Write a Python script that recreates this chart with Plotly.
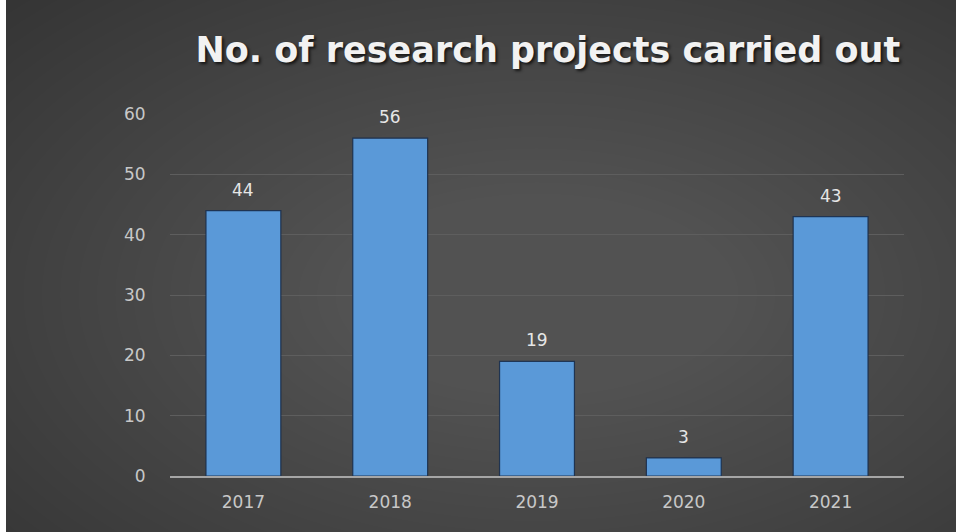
import plotly.graph_objects as go

years = ["2017", "2018", "2019", "2020", "2021"]
projects = [44, 56, 19, 3, 43]
y_ticks = [0, 10, 20, 30, 40, 50, 60]
title_text = "No. of research projects carried out"

fig = go.Figure()
fig.add_trace(go.Bar(
    x=years, y=projects,
    marker=dict(color="#5a99d8", line=dict(width=1.2, color="rgba(25,45,75,0.9)")),
    hoverinfo="x+y",
))

# data labels (category axis: position by category index)
for i, yv in enumerate(projects):
    fig.add_annotation(x=i, y=yv, text=str(yv), showarrow=False,
                       yanchor="bottom", yshift=9,
                       font=dict(family="DejaVu Sans", size=17, color="#e6e6e6"))

# radial-gradient-like background
shapes = []
n = 40
for i in range(n):
    f = i / n
    shapes.append(dict(
        type="circle", xref="paper", yref="paper", layer="below",
        x0=-0.75 + f * 1.0, x1=1.75 - f * 1.0,
        y0=-1.0 + f * 1.25, y1=2.0 - f * 1.25,
        fillcolor="rgba(255,255,255,0.0075)", line=dict(width=0),
    ))
# thin white strip at the very left edge, as in the reference
shapes.append(dict(type="rect", xref="paper", yref="paper", layer="above",
                   x0=-170 / 734, x1=-164 / 734, y0=-56 / 362, y1=476 / 362,
                   fillcolor="#ffffff", line=dict(width=0)))

fig.update_layout(
    width=956, height=532,
    margin=dict(l=170, r=52, t=114, b=56),
    paper_bgcolor="#2a2a2a",
    plot_bgcolor="rgba(0,0,0,0)",
    shapes=shapes,
    bargap=0.49,
    showlegend=False,
    title=dict(text="<b>" + title_text + "</b>", x=0.573, xanchor="center",
               y=0.906, yanchor="middle",
               font=dict(family="DejaVu Sans", size=35, color="#f2f2f2",
                         shadow="2px 2px 3px rgba(0,0,0,0.7)")),
    xaxis=dict(
        type="category",
        showgrid=False, showline=True, linecolor="#a6a6a6", linewidth=1.5,
        ticks="outside", ticklen=10, tickcolor="rgba(0,0,0,0)",
        tickfont=dict(family="DejaVu Sans", size=17, color="#c8c8c8"),
        fixedrange=True,
    ),
    yaxis=dict(
        range=[0, 60], tickvals=y_ticks, showgrid=True, gridcolor="#5e5e5e",
        gridwidth=1, zeroline=False, showline=False,
        ticks="outside", ticklen=20, tickcolor="rgba(0,0,0,0)",
        tickfont=dict(family="DejaVu Sans", size=17, color="#c8c8c8"),
        fixedrange=True,
    ),
)

fig.write_html("out.html", config={"displayModeBar": False},
               post_script="document.body.style.margin='0';")
